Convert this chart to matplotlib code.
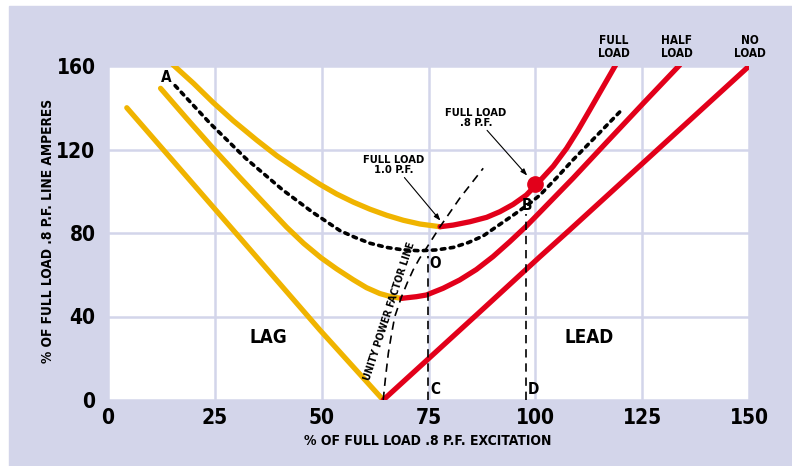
import matplotlib
matplotlib.use("Agg")
import matplotlib.pyplot as plt
from matplotlib.patches import Rectangle
from matplotlib import font_manager

# V-curves (x = % excitation, y = % line amperes)
noload_lag_x = [4.4, 29.3, 49.6, 64.4]
noload_lag_y = [140, 81.4, 33.5, 0]
noload_lead_x = [64.4, 86.9, 101, 108, 150.3]
noload_lead_y = [0, 42, 68.5, 81.4, 160.5]

half_lag_x = [12.3, 18.4, 24.8, 30.9, 37.1, 41.8, 45.8, 49.8, 53.5, 57.4, 60.5, 63.6, 66.4, 68.7]
half_lag_y = [149.3, 134.9, 120.1, 106.5, 93.0, 82.8, 75.0, 68.2, 62.8, 57.6, 53.8, 51.0, 49.4, 48.7]
half_lead_x = [68.7, 72.2, 74.5, 78.4, 82.3, 86.2, 90.1, 94.0, 97.9, 101.1, 104.9, 108.8, 116.7, 125.2, 133.8]
half_lead_y = [48.7, 49.5, 50.3, 53.5, 57.5, 62.5, 68.7, 75.8, 83.3, 90.0, 98.0, 106.2, 123.5, 142.0, 160.5]

full_lag_x = [15.1, 20.0, 24.6, 29.3, 34.8, 39.5, 44.9, 49.6, 53.5, 57.4, 61.3, 65.2, 69.1, 73.0, 77.7]
full_lag_y = [160.8, 151.7, 142.5, 133.8, 124.5, 117.0, 109.5, 103.3, 98.7, 94.8, 91.4, 88.5, 86.1, 84.3, 83.0]
full_lead_x = [77.7, 80.8, 84.7, 88.6, 91.7, 94.8, 97.9, 100.3, 104.2, 107.3, 110.0, 112.7, 115.9, 118.8]
full_lead_y = [83.0, 83.8, 85.4, 87.5, 90.2, 93.7, 98.2, 103.3, 112.0, 120.5, 129.3, 138.8, 150.2, 160.5]

# full load .8 p.f. curve A-O-B
aob_x = [15.7, 23.9, 32.2, 40.9, 47.9, 54.3, 57.8, 61.3, 65.2, 69.1, 73.0, 76.9, 80.8, 84.3, 87.8,
         90.9, 94.8, 98.7, 101.1, 105.0, 108.8, 114.3, 119.8]
aob_y = [150.6, 132.5, 115.8, 100.6, 89.9, 81.1, 77.9, 75.1, 73.1, 71.9, 71.5, 71.9, 73.1, 75.4, 78.6,
         83.0, 88.5, 94.2, 98.2, 106.5, 115.0, 126.5, 138.1]

# unity power factor line
upf_x = [64.4, 64.9, 65.6, 66.3, 67.1, 68.7, 70.0, 71.4, 72.9, 74.5, 77.7, 82.3, 87.8]
upf_y = [0, 10, 22.4, 31, 39.9, 49.5, 56, 62.3, 67.8, 72.7, 83, 96.6, 111]

line_c = (74.9, 69)
line_d = (97.8, 89)
point_b = (100, 103.5)

xticks = [0, 25, 50, 75, 100, 125, 150]
yticks = [0, 40, 80, 120, 160]

LAV = "#d3d5ea"
YEL = "#f0b400"
RED = "#e2001a"

names = {f.name for f in font_manager.fontManager.ttflist}
if "Liberation Sans Narrow" in names:
    plt.rcParams["font.family"] = ["Liberation Sans Narrow", "DejaVu Sans"]
else:
    plt.rcParams["font.family"] = ["DejaVu Sans"]
    plt.rcParams["font.stretch"] = "condensed"
plt.rcParams["font.weight"] = "bold"

fig = plt.figure(figsize=(7.92, 4.66), dpi=100)
fig.patch.set_facecolor("white")
fig.patches.append(Rectangle((9 / 792, 0), 1 - 9 / 792, 1 - 6 / 466,
                             transform=fig.transFigure, color=LAV, zorder=-5))

ax = fig.add_axes([108 / 792, 1 - 400 / 466, 641 / 792, 334 / 466])
ax.set_facecolor("white")
ax.set_xlim(0, 150)
ax.set_ylim(0, 160)
for s in ax.spines.values():
    s.set_visible(False)
ax.set_xticks(xticks)
ax.set_yticks(yticks)
ax.tick_params(length=0, labelsize=15, pad=6)
ax.tick_params(axis="y", pad=9)
for lab in ax.get_xticklabels() + ax.get_yticklabels():
    lab.set_fontweight("bold")
ax.grid(True, color=LAV, lw=1.8)
ax.set_axisbelow(True)

lw = 3.8
kw = dict(lw=lw, solid_capstyle="round", solid_joinstyle="round")
ax.plot(noload_lag_x, noload_lag_y, color=YEL, **kw)
ax.plot(half_lag_x, half_lag_y, color=YEL, **kw)
ax.plot(full_lag_x, full_lag_y, color=YEL, **kw)
ax.plot(noload_lead_x, noload_lead_y, color=RED, **kw)
ax.plot(half_lead_x, half_lead_y, color=RED, **kw)
ax.plot(full_lead_x, full_lead_y, color=RED, **kw)

ax.plot(aob_x, aob_y, color="black", lw=2.6, dashes=(1.0, 1.5),
        dash_capstyle="round", zorder=4)
ax.plot(upf_x, upf_y, color="black", lw=1.2, dashes=(5, 3.5), zorder=4)
ax.plot([line_c[0], line_c[0]], [0, line_c[1]], color="black", lw=1.2,
        dashes=(5, 3.5), zorder=4)
ax.plot([line_d[0], line_d[0]], [0, line_d[1]], color="black", lw=1.2,
        dashes=(5, 3.5), zorder=4)
ax.plot(point_b[0], point_b[1], "o", color=RED, ms=11, zorder=5)

tk = dict(fontweight="bold", color="black")
ax.text(13.7, 154.4, "A", fontsize=11, ha="center", va="center", **tk)
ax.text(76.6, 65.5, "O", fontsize=11, ha="center", va="center", **tk)
ax.text(98.1, 93.1, "B", fontsize=11, ha="center", va="center", **tk)
ax.text(76.7, 5, "C", fontsize=11, ha="center", va="center", **tk)
ax.text(99.5, 5, "D", fontsize=11, ha="center", va="center", **tk)
ax.text(37.5, 30, "LAG", fontsize=13.5, ha="center", va="center", **tk)
ax.text(112.5, 30, "LEAD", fontsize=13.5, ha="center", va="center", **tk)

ax.text(65.9, 42.5, "UNITY POWER FACTOR LINE", fontsize=7.5, rotation=72,
        ha="center", va="center", rotation_mode="anchor", **tk)

ap = dict(arrowstyle="-|>,head_length=0.5,head_width=0.18", color="black", lw=0.8,
          shrinkA=0, shrinkB=0)
ax.annotate("FULL LOAD\n1.0 P.F.", xy=(77.8, 85.9), xytext=(66.9, 112.6),
            fontsize=8, ha="center", va="center", linespacing=0.95,
            arrowprops=ap, **tk)
ax.annotate("FULL LOAD\n.8 P.F.", xy=(98.1, 107.5), xytext=(86.1, 135.2),
            fontsize=8, ha="center", va="center", linespacing=0.95,
            arrowprops=ap, **tk)

for x, lbl in [(118.4, "FULL\nLOAD"), (133.1, "HALF\nLOAD"), (150.2, "NO\nLOAD")]:
    ax.text(x, 169.2, lbl, fontsize=8.5, ha="center", va="center",
            linespacing=0.95, clip_on=False, **tk)

fig.text(428 / 792, 1 - 441 / 466, "% OF FULL LOAD .8 P.F. EXCITATION",
         fontsize=10, ha="center", va="center", **tk)
fig.text(48 / 792, 1 - 231 / 466, "% OF FULL LOAD .8 P.F. LINE AMPERES",
         fontsize=9.8, rotation=90, ha="center", va="center", **tk)

fig.savefig("out.png", dpi=100)
